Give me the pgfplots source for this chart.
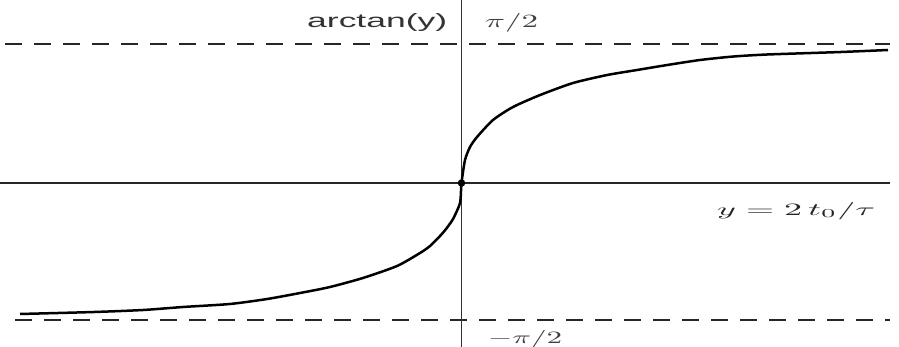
\documentclass[border=0pt]{standalone}
\usepackage{pgfplots}
\pgfplotsset{compat=1.18}
\usepackage{graphicx}
\usepackage{fontspec}
\newfontfamily\labelsans{Liberation Sans}

% arctan response curve, x in units of 2 t_0 / tau (scaled), y in radians
\pgfplotstableread{
x        y
-11.0375 -1.480
-9.2125  -1.458
-7.9625  -1.435
-6.9625  -1.401
-5.7875  -1.367
-4.8625  -1.311
-4.0375  -1.243
-3.2875  -1.175
-2.4625  -1.073
-1.6125  -0.938
-1.0375  -0.791
-0.7875  -0.712
-0.5375  -0.599
-0.3875  -0.520
-0.2125  -0.407
-0.0375  -0.226
0.0000   0.000
0.0875   0.260
0.2125   0.407
0.3875   0.520
0.7875   0.712
1.2875   0.859
1.9625   0.994
2.7875   1.130
3.6375   1.220
4.3875   1.277
5.1375   1.333
5.9625   1.390
6.7875   1.429
7.6375   1.452
9.4625   1.480
10.6625  1.503
}\curve

\begin{document}
\begin{tikzpicture}
\begin{axis}[
  width=899pt, height=347pt, scale only axis,
  xmin=-11.5375, xmax=10.9375, ymin=-1.853, ymax=2.068,
  hide axis, clip=false,
]
\coordinate (bl) at (rel axis cs:0,0);
\coordinate (tr) at (rel axis cs:1,1);
% asymptotes at +/- pi/2
\addplot[black!85, line width=2pt, dash pattern=on 17pt off 12pt]
  coordinates {(-11.41,1.5708) (10.71,1.5708)};
\addplot[black!85, line width=2pt, dash pattern=on 17pt off 12pt]
  coordinates {(-11.16,-1.548) (10.71,-1.548)};
% axes
\addplot[black!85, line width=1.7pt] coordinates {(-11.54,0) (10.71,0)};
\addplot[black!80, line width=1.8pt] coordinates {(0,-1.853) (0,2.068)};
% the curve
\addplot[black, line width=2.5pt, smooth, tension=0.4] table[x=x, y=y] {\curve};
\addplot[only marks, mark=*, mark size=3.5pt, black] coordinates {(0,0)};
% labels
\node[anchor=base west, inner sep=0pt, text=black!80] at (axis cs:-3.8625,1.7627)
  {\resizebox{140pt}{14pt}{\labelsans arctan(y)}};
\node[anchor=base west, inner sep=0pt, text=black!75] at (axis cs:0.5875,1.7627)
  {\resizebox{53pt}{14pt}{$\pi/2$}};
\node[anchor=base west, inner sep=0pt, text=black!75] at (axis cs:0.6625,-1.808)
  {\resizebox{74pt}{13pt}{$-\pi/2$}};
\node[anchor=base west, inner sep=0pt, text=black!85] at (axis cs:6.3875,-0.3616)
  {\resizebox{158pt}{13pt}{$y = 2\,t_0/\tau$}};
\end{axis}
\pgfresetboundingbox
\useasboundingbox (bl) rectangle (tr);
\end{tikzpicture}
\end{document}
